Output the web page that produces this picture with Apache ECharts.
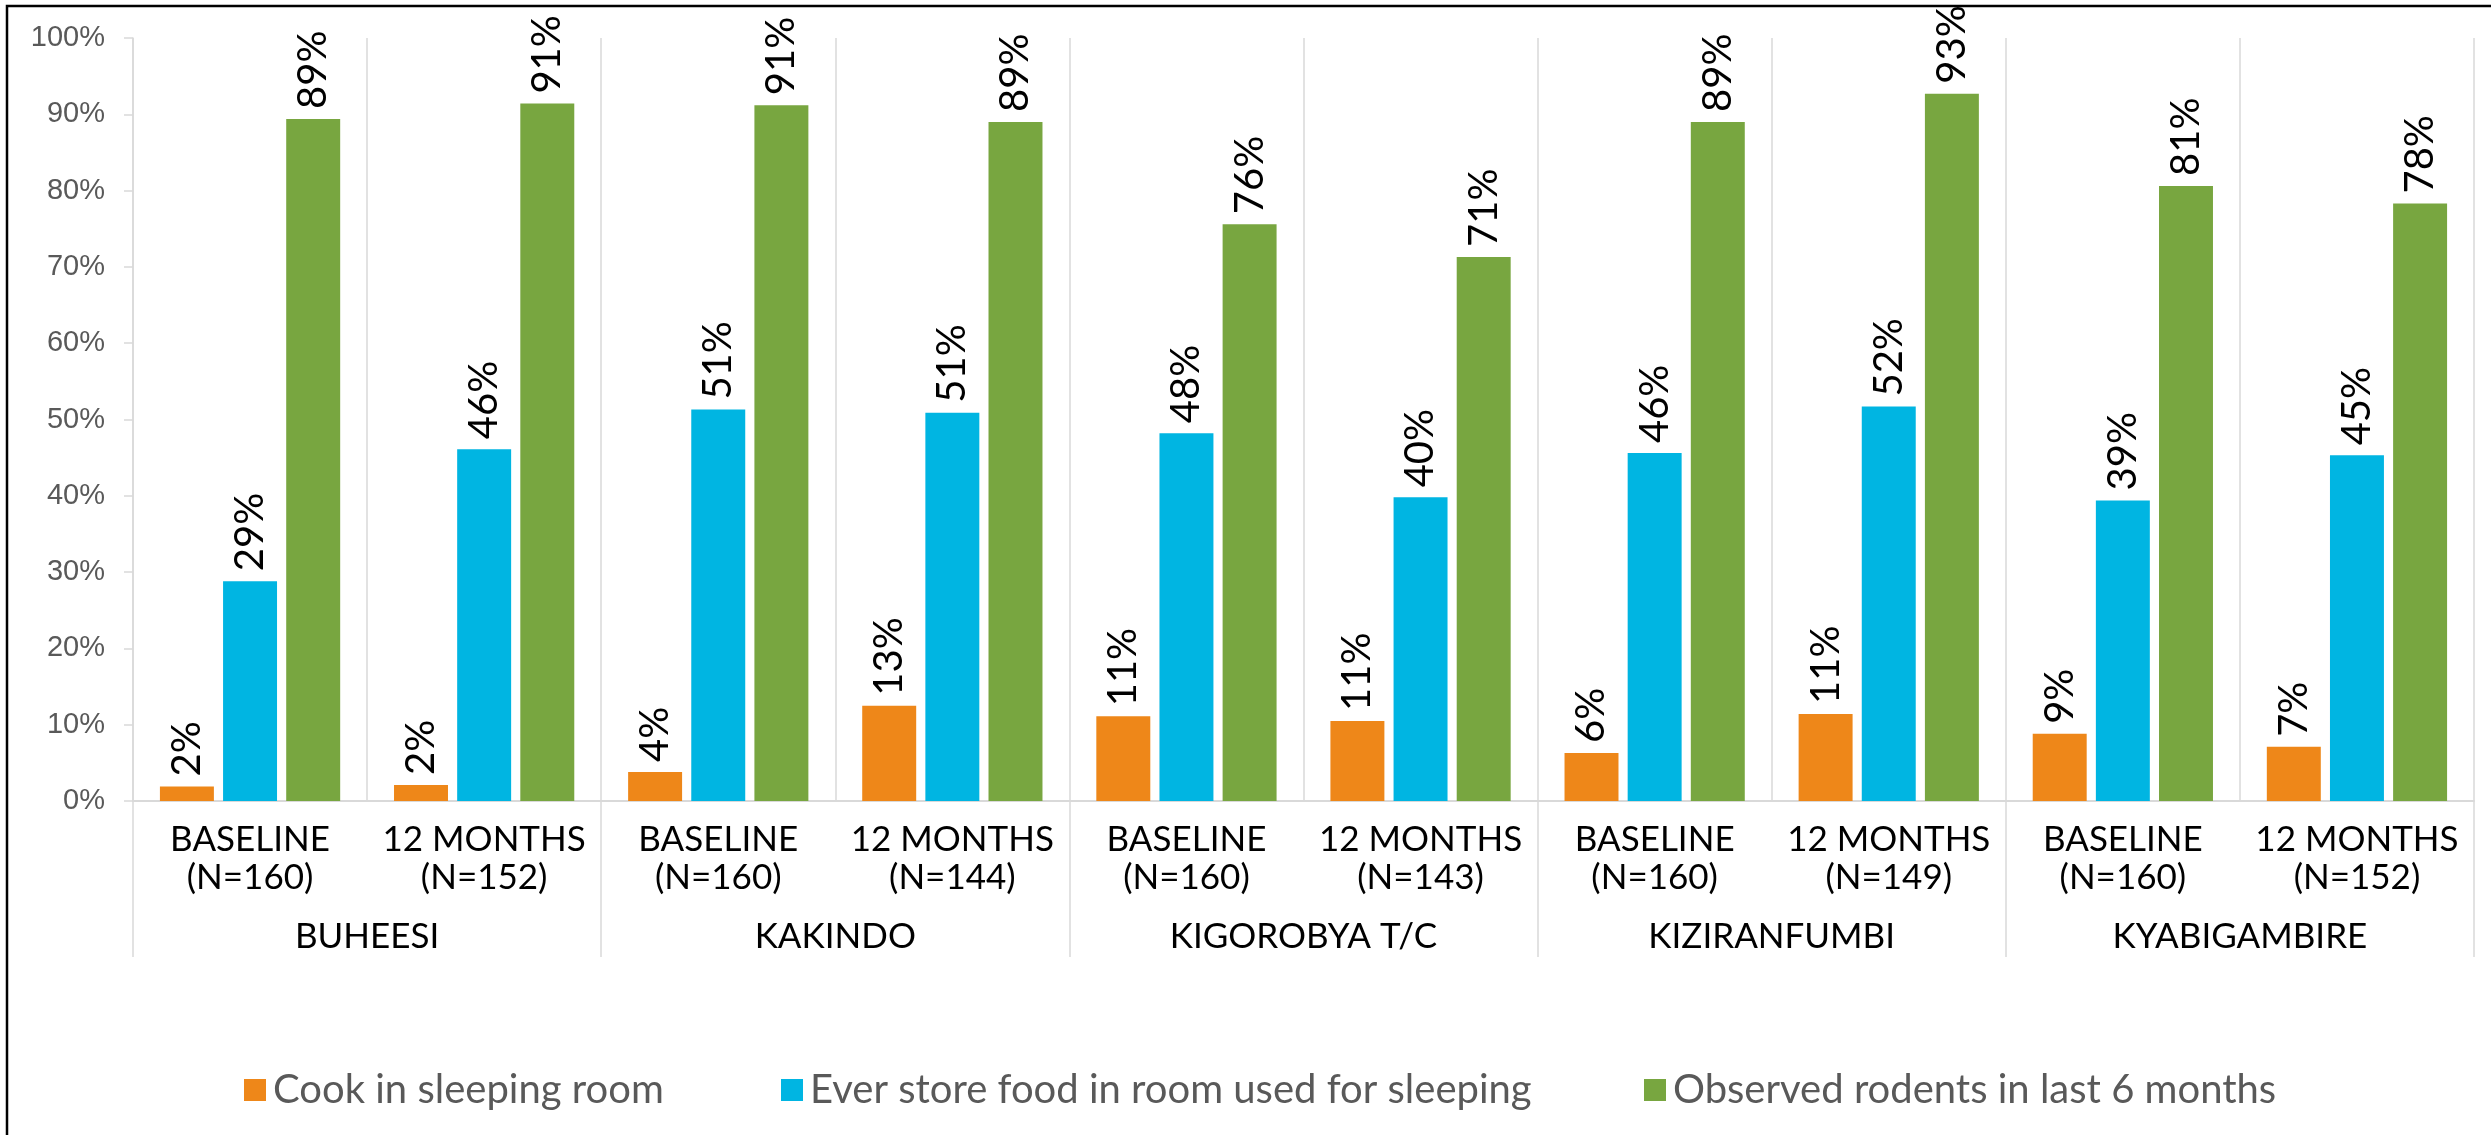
<!DOCTYPE html>
<html>
<head>
<meta charset="utf-8">
<script src="https://cdn.jsdelivr.net/npm/echarts@6/dist/echarts.min.js"></script>
<style>
  html, body { margin: 0; padding: 0; background: #ffffff; }
  #chart { width: 2491px; height: 1135px; }
</style>
</head>
<body>
<div id="chart"></div>
<script>
// Survey rounds per village (inner axis) and the villages (outer axis)
const rounds = [
  'BASELINE\n(N=160)', '12 MONTHS\n(N=152)',
  'BASELINE\n(N=160)', '12 MONTHS\n(N=144)',
  'BASELINE\n(N=160)', '12 MONTHS\n(N=143)',
  'BASELINE\n(N=160)', '12 MONTHS\n(N=149)',
  'BASELINE\n(N=160)', '12 MONTHS\n(N=152)'
];
const villages = ['BUHEESI', 'KAKINDO', 'KIGOROBYA T/C', 'KIZIRANFUMBI', 'KYABIGAMBIRE'];

// Percent of households
const cookInSleepingRoom = [1.9, 2.1, 3.8, 12.5, 11.1, 10.5, 6.3, 11.4, 8.8, 7.1];
const storeFoodInSleepingRoom = [28.8, 46.1, 51.3, 50.9, 48.2, 39.8, 45.6, 51.7, 39.4, 45.3];
const observedRodents = [89.4, 91.4, 91.2, 89.0, 75.6, 71.3, 89.0, 92.7, 80.6, 78.3];

const seriesNames = [
  'Cook in sleeping room',
  'Ever store food in room used for sleeping',
  'Observed rodents in last 6 months'
];
const yTicks = { min: 0, max: 100, step: 10 };

const colors = ['#EE8719', '#00B5E2', '#78A640'];
const gridLine = '#D9D9D9';
const labelFont = 'Lato, "Open Sans", sans-serif';

const chart = echarts.init(document.getElementById('chart'), null, { renderer: 'canvas' });

function barSeries(name, values, color) {
  return {
    name: name,
    type: 'bar',
    xAxisIndex: 0,
    data: values,
    barGap: '17%',
    barCategoryGap: '23%',
    itemStyle: { color: color },
    label: {
      show: true,
      position: 'top',
      rotate: 90,
      align: 'left',
      verticalAlign: 'middle',
      distance: 10,
      color: '#000000',
      fontFamily: labelFont,
      fontSize: 40,
      formatter: p => Math.round(p.value) + '%'
    }
  };
}

function legendFor(name, left) {
  return {
    data: [name],
    left: left,
    top: 1069,
    padding: 0,
    itemWidth: 22,
    itemHeight: 22,
    itemGap: 0,
    icon: 'rect',
    textStyle: {
      color: '#595959',
      fontFamily: labelFont,
      fontSize: 40,
      lineHeight: 42,
      padding: [0, 0, 0, 2]
    }
  };
}

const option = {
  backgroundColor: '#ffffff',
  animation: false,
  color: colors,
  graphic: [{
    type: 'rect',
    shape: { x: 7, y: 6, width: 2700, height: 1300 },
    style: { fill: 'none', stroke: '#000000', lineWidth: 2.5 },
    silent: true
  }],
  legend: [
    legendFor(seriesNames[0], 244),
    legendFor(seriesNames[1], 781),
    legendFor(seriesNames[2], 1644)
  ],
  grid: { left: 133, right: 17, top: 38, bottom: 334, containLabel: false },
  xAxis: [
    {
      type: 'category',
      position: 'bottom',
      data: rounds,
      axisLine: { show: true, lineStyle: { color: gridLine, width: 2 } },
      axisTick: { show: false },
      splitLine: { show: true, interval: 0, lineStyle: { color: gridLine, width: 1.5 } },
      axisLabel: {
        interval: 0,
        margin: 20,
        color: '#000000',
        fontFamily: labelFont,
        fontSize: 35,
        lineHeight: 38
      }
    },
    {
      type: 'category',
      position: 'bottom',
      data: villages,
      axisLine: { show: false },
      axisTick: { show: true, interval: 0, length: 156, lineStyle: { color: gridLine, width: 1.5 } },
      splitLine: { show: false },
      axisLabel: {
        interval: 0,
        margin: 117,
        color: '#000000',
        fontFamily: labelFont,
        fontSize: 35,
        lineHeight: 38
      }
    }
  ],
  yAxis: {
    type: 'value',
    min: yTicks.min,
    max: yTicks.max,
    interval: yTicks.step,
    axisLine: { show: true, lineStyle: { color: gridLine, width: 1.5 } },
    axisTick: { show: true, length: 9, lineStyle: { color: gridLine, width: 1.5 } },
    splitLine: { show: false },
    axisLabel: {
      formatter: '{value}%',
      margin: 28,
      color: '#595959',
      fontFamily: '"Liberation Sans", Arial, sans-serif',
      fontSize: 29
    }
  },
  series: [
    barSeries(seriesNames[0], cookInSleepingRoom, colors[0]),
    barSeries(seriesNames[1], storeFoodInSleepingRoom, colors[1]),
    barSeries(seriesNames[2], observedRodents, colors[2])
  ]
};

chart.setOption(option);
</script>
</body>
</html>
